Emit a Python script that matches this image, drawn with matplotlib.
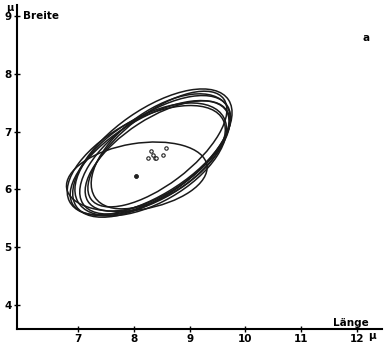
import matplotlib
matplotlib.use("Agg")
import matplotlib.pyplot as plt
from matplotlib.patches import Ellipse

# Ellipsen: Mittelpunkt (Länge, Breite), Durchmesser, Neigung
ell_x = [8.33, 8.38, 8.42, 8.28, 8.48, 8.30, 8.42, 8.22, 8.05]
ell_y = [6.63, 6.60, 6.58, 6.55, 6.66, 6.52, 6.70, 6.50, 6.22]
ell_w = [3.3, 3.1, 2.95, 3.2, 2.85, 3.0, 2.95, 3.1, 2.55]
ell_h = [1.5, 1.4, 1.3, 1.35, 1.45, 1.5, 1.25, 1.45, 1.15]
ell_ang = [34, 33, 32, 30, 34, 29, 36, 27, 9]

# Mittelpunkte
pt_x = [8.30, 8.58, 8.26, 8.38, 8.40, 8.52, 8.34, 8.04]
pt_y = [6.66, 6.72, 6.55, 6.55, 6.54, 6.59, 6.60, 6.23]

xticks = [7, 8, 9, 10, 11, 12]
yticks = [4, 5, 6, 7, 8, 9]

fig = plt.figure(figsize=(3.88, 3.54), dpi=100)
ax = fig.add_axes([0.044, 0.071, 0.94, 0.915])

for i in range(len(ell_x)):
    e = Ellipse((ell_x[i], ell_y[i]), ell_w[i], ell_h[i], angle=ell_ang[i],
                fill=False, ec="#1a1a1a", lw=1.1)
    ax.add_patch(e)

ax.scatter(pt_x, pt_y, s=6, facecolors="white", edgecolors="#222222", linewidths=0.8, zorder=3)
ax.scatter(pt_x[-1:], pt_y[-1:], s=5, color="#222222", zorder=3)

ax.set_xlim(5.9, 12.45)
ax.set_ylim(3.58, 9.2)
ax.set_xticks(xticks)
ax.set_yticks(yticks)
ax.tick_params(direction="inout", length=4, width=1, labelsize=7.5, pad=2)
for lab in ax.get_xticklabels() + ax.get_yticklabels():
    lab.set_fontweight("bold")
ax.spines["top"].set_visible(False)
ax.spines["right"].set_visible(False)
ax.spines["left"].set_linewidth(1.5)
ax.spines["bottom"].set_linewidth(1.5)

ax.text(6.0, 9.0, "Breite", fontsize=7.5, fontweight="bold", va="center", ha="left")
ax.text(5.775, 9.14, "µ", fontsize=7, fontweight="bold", ha="center", va="center", clip_on=False)
ax.text(11.9, 3.69, "Länge", fontsize=7.5, fontweight="bold", ha="center", va="center")
ax.text(12.27, 3.45, "µ", fontsize=7.5, fontweight="bold", ha="center", va="center", clip_on=False)
ax.text(12.17, 8.63, "a", fontsize=7.5, fontweight="bold", ha="center", va="center")

fig.savefig("out.png", dpi=100)
